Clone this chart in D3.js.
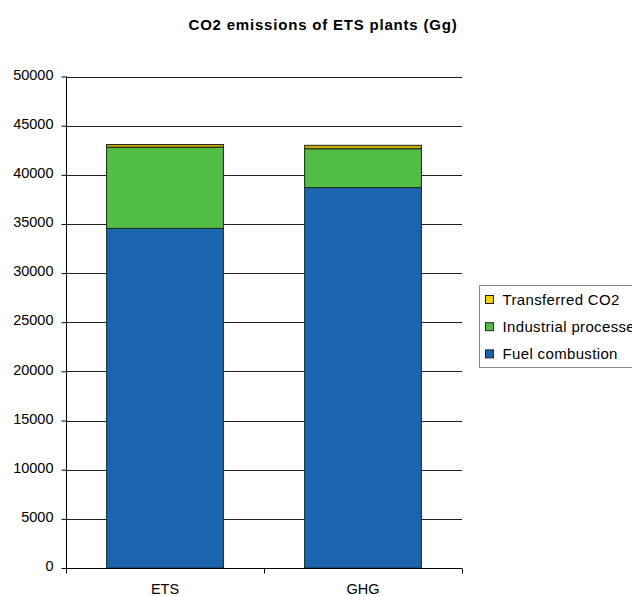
<!DOCTYPE html>
<html>
<head>
<meta charset="utf-8">
<script src="https://cdn.jsdelivr.net/npm/d3@7"></script>
<style>
  body { margin: 0; background: #fff; }
  svg { font-family: "Liberation Sans", Arial, sans-serif; }
  .grid line { stroke: #222; stroke-width: 1; }
  .axis text { font-size: 14.5px; fill: #000; }
  .axis path, .axis line { stroke: #000; }
</style>
</head>
<body>
<svg width="632" height="596"></svg>
<script>
(function() {
  // chart values
  var categories = ["ETS", "GHG"];
  var seriesNames = ["Fuel combustion", "Industrial processes", "Transferred CO2"];
  var fuelCombustion = [34550, 38700];
  var industrialProcesses = [8250, 3950];
  var transferredCO2 = [280, 350];
  var yTicks = [0, 5000, 10000, 15000, 20000, 25000, 30000, 35000, 40000, 45000, 50000];

  var colors = ["#1a64b0", "#52be46", "#c8a800"];
  var legendColors = ["#1a64b0", "#52be46", "#f2d000"];

  var svg = d3.select("svg");
  var left = 66, right = 462, top = 76.5, bottom = 568;

  var rows = categories.map(function(c, i) {
    return { cat: c, "Fuel combustion": fuelCombustion[i],
      "Industrial processes": industrialProcesses[i],
      "Transferred CO2": transferredCO2[i] };
  });
  var stacked = d3.stack().keys(seriesNames)(rows);

  var x = d3.scaleBand().domain(categories).range([left, right]).paddingInner(0.41).paddingOuter(0.205);
  var y = d3.scaleLinear().domain([0, 50000]).range([bottom, top]);

  // title
  svg.append("text")
      .attr("x", 323).attr("y", 30)
      .attr("text-anchor", "middle")
      .attr("font-size", "15px")
      .attr("letter-spacing", "0.8px")
      .attr("font-weight", "bold")
      .text("CO2 emissions of ETS plants (Gg)");

  // gridlines
  svg.append("g").attr("class", "grid")
    .selectAll("line")
    .data(yTicks.slice(1))
    .enter().append("line")
      .attr("x1", left).attr("x2", right)
      .attr("y1", function(d) { return Math.round(y(d)) + 0.5; })
      .attr("y2", function(d) { return Math.round(y(d)) + 0.5; });

  // bars
  svg.append("g")
    .selectAll("g")
    .data(stacked)
    .enter().append("g")
      .attr("fill", function(d, i) { return colors[i]; })
    .selectAll("rect")
    .data(function(d) { return d; })
    .enter().append("rect")
      .attr("x", function(d) { return x(d.data.cat); })
      .attr("width", x.bandwidth())
      .attr("y", function(d) { return y(d[1]); })
      .attr("height", function(d) { return y(d[0]) - y(d[1]); })
      .attr("stroke", "#1d2a1d")
      .attr("stroke-width", 1);

  // y axis
  var yg = svg.append("g")
      .attr("class", "axis")
      .attr("transform", "translate(" + (left + 0.5) + ",0)")
      .call(d3.axisLeft(y).tickValues(yTicks).tickSize(5).tickPadding(8).tickFormat(d3.format("d")));
  yg.select(".domain").attr("d", "M0," + top + "V" + bottom);
  yg.selectAll("text").attr("dy", "0.18em");

  // x axis
  var xg = svg.append("g")
      .attr("class", "axis")
      .attr("transform", "translate(0," + (bottom + 0.5) + ")");
  xg.append("line").attr("x1", left).attr("x2", right).attr("stroke", "#000");
  xg.selectAll(".tk")
    .data([left, x("GHG") - x.step() * x.paddingInner() / 2, right])
    .enter().append("line")
      .attr("x1", function(d) { return Math.round(d) + 0.5; })
      .attr("x2", function(d) { return Math.round(d) + 0.5; })
      .attr("y1", 0).attr("y2", 5).attr("stroke", "#000");
  xg.selectAll("text")
    .data(categories)
    .enter().append("text")
      .attr("x", function(d) { return x(d) + x.bandwidth() / 2; })
      .attr("y", 25)
      .attr("text-anchor", "middle")
      .text(function(d) { return d; });

  // legend
  var lg = svg.append("g").attr("transform", "translate(479.5,285.5)");
  lg.append("rect")
      .attr("width", 160).attr("height", 82)
      .attr("fill", "#fff").attr("stroke", "#888");
  var legendOrder = [2, 1, 0];
  var items = lg.selectAll(".item")
    .data(legendOrder)
    .enter().append("g")
      .attr("transform", function(d, i) { return "translate(6," + (14 + i * 27.2) + ")"; });
  items.append("rect")
      .attr("x", 0).attr("y", -4).attr("width", 8).attr("height", 8)
      .attr("fill", function(d) { return legendColors[d]; })
      .attr("stroke", "#222");
  items.append("text")
      .attr("x", 17).attr("y", 5.5)
      .attr("font-size", "15px")
      .attr("letter-spacing", "0.35px")
      .text(function(d) { return seriesNames[d]; });
})();
</script>
</body>
</html>
